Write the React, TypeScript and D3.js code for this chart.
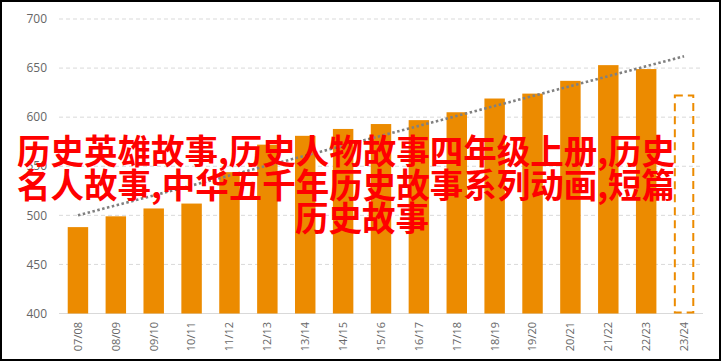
import React from 'react';
import * as d3 from 'd3';

// school years on the x axis
const categories = [
  '07/08', '08/09', '09/10', '10/11', '11/12', '12/13', '13/14', '14/15', '15/16',
  '16/17', '17/18', '18/19', '19/20', '20/21', '21/22', '22/23', '23/24',
];
// actual values (07/08 .. 22/23)
const actualValues = [488, 499, 507, 512, 544, 572, 581, 588, 593, 597, 605, 619, 624, 637, 653, 649];
// projected value for the last year, drawn as dashed outline
const projectedValues = [622];
// linear trend from first to last category
const trendValues = [500, 662];
const yTicks = [400, 450, 500, 550, 600, 650, 700];

const titleLines = [
  '历史英雄故事,历史人物故事四年级上册,历史',
  '名人故事,中华五千年历史故事系列动画,短篇',
  '历史故事',
];

const W = 723;
const H = 363;
const ORANGE = '#ec8b00';

export default function App() {
  const x = d3.scaleBand<string>().domain(categories).range([59, 703]).paddingInner(0.46).paddingOuter(0.23);
  const y = d3.scaleLinear().domain([400, 700]).range([313.5, 19]);
  const cx = (c: string) => (x(c) ?? 0) + x.bandwidth() / 2;

  const lastCat = categories[categories.length - 1];
  const trendPts: [number, number][] = [
    [cx(categories[0]), y(trendValues[0])],
    [cx(lastCat), y(trendValues[1])],
  ];
  const line = d3.line();

  return (
    <div style={{ position: 'absolute', left: 0, top: 0, background: '#fff' }}>
      <svg width={W} height={H} style={{ display: 'block' }}>
        <rect x={0} y={0} width={W} height={H} fill="#fff" />

        {/* gridlines */}
        {yTicks.map((t) => (
          <line
            key={t}
            x1={59}
            x2={703}
            y1={y(t)}
            y2={y(t)}
            stroke="#d9d9d9"
            strokeWidth={1}
            strokeDasharray={t === 400 ? undefined : '4 3'}
          />
        ))}

        {/* y tick labels */}
        {yTicks.map((t) => (
          <text
            key={'l' + t}
            x={47}
            y={y(t)}
            dy="0.35em"
            textAnchor="end"
            fontFamily="'Open Sans', sans-serif"
            fontSize={12}
            fill="#666"
          >
            {t}
          </text>
        ))}

        {/* bars */}
        {actualValues.map((v, i) => (
          <rect
            key={categories[i]}
            x={x(categories[i])}
            y={y(v)}
            width={x.bandwidth()}
            height={y(400) - y(v)}
            fill={ORANGE}
          />
        ))}
        {projectedValues.map((v, i) => {
          const c = categories[actualValues.length + i];
          return (
            <rect
              key={c}
              x={(x(c) ?? 0) + 1}
              y={y(v)}
              width={x.bandwidth() - 2}
              height={y(400) - y(v) - 1}
              fill="none"
              stroke={ORANGE}
              strokeWidth={2}
              strokeDasharray="8 5"
            />
          );
        })}

        {/* trend line */}
        <path
          d={line(trendPts) ?? ''}
          fill="none"
          stroke="#808080"
          strokeWidth={2.6}
          strokeDasharray="2.5 2.5"
        />

        {/* x tick labels */}
        {categories.map((c) => (
          <text
            key={'x' + c}
            transform={`translate(${cx(c)},322) rotate(-90)`}
            dy="0.35em"
            textAnchor="end"
            fontFamily="'Open Sans', sans-serif"
            fontSize={11}
            fill="#666"
          >
            {c}
          </text>
        ))}

        {/* overlay title */}
        {titleLines.map((t, i) => (
          <text
            key={'t' + i}
            x={i < 2 ? 17 : 295}
            y={152 + i * 33.5}
            dy="0.36em"
            textLength={i < 2 ? 658 : 134}
            lengthAdjust="spacingAndGlyphs"
            fontFamily="'Noto Sans CJK SC', sans-serif"
            fontWeight={700}
            fontSize={34}
            fill="#ff0000"
          >
            {t}
          </text>
        ))}

        {/* frame */}
        <rect x={1} y={1} width={719} height={359} fill="none" stroke="#000" strokeWidth={2} />
      </svg>
    </div>
  );
}
